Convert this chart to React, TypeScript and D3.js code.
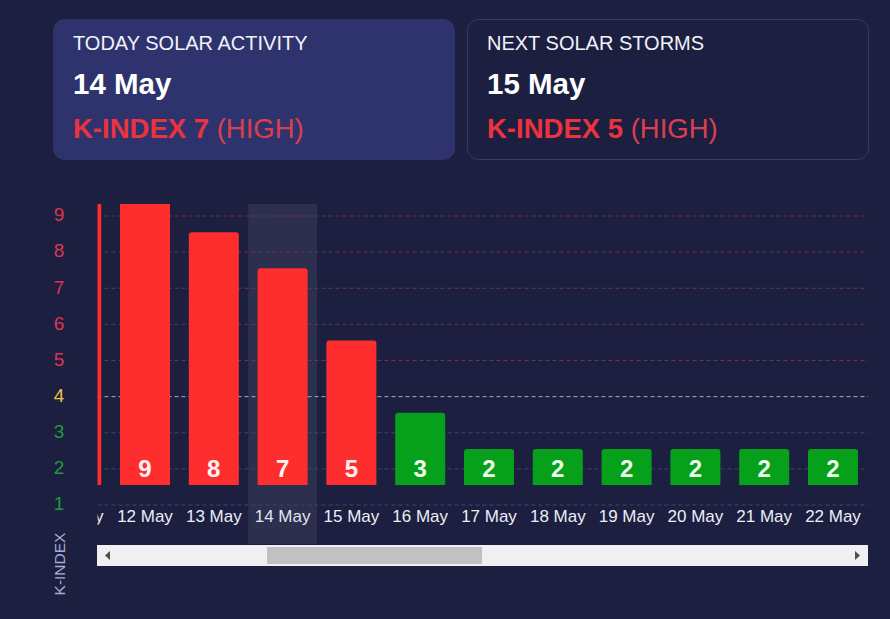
import React from "react";
import * as d3 from "d3";

const dates = ["11 May", "12 May", "13 May", "14 May", "15 May", "16 May", "17 May", "18 May", "19 May", "20 May", "21 May", "22 May"];
const kValues = [9, 9, 8, 7, 5, 3, 2, 2, 2, 2, 2, 2];
const yTicks = [1, 2, 3, 4, 5, 6, 7, 8, 9];
const todayDate = "14 May";
const todayK = 7;
const nextDate = "15 May";
const nextK = 5;
const levelLabel = "(HIGH)";

const W = 890;
const H = 619;
const BG = "#1c1f40";
const RED = "#ff2e2e";
const GREEN = "#06a01b";
const FONT = "'Liberation Sans', Arial, Helvetica, sans-serif";

const tickColor = (v: number) => (v >= 5 ? "#dc3550" : v === 4 ? "#f0c24a" : "#1f9a3c");
const gridColor = (v: number) => (v >= 5 ? "#6b3459" : v === 4 ? "#a9abc0" : "#3f4468");
const barColor = (v: number) => (v >= 4 ? RED : GREEN);

function topRoundedRect(x: number, y: number, w: number, h: number, r: number) {
  const p = d3.path();
  p.moveTo(x, y + h);
  p.lineTo(x, y + r);
  p.quadraticCurveTo(x, y, x + r, y);
  p.lineTo(x + w - r, y);
  p.quadraticCurveTo(x + w, y, x + w, y + r);
  p.lineTo(x + w, y + h);
  p.closePath();
  return p.toString();
}

function Card({ x, fill, stroke, title, date, k }: { x: number; fill: string; stroke: string; title: string; date: string; k: number }) {
  return (
    <g>
      <rect x={x} y={19.5} width={401} height={140} rx={11} fill={fill} stroke={stroke} strokeWidth={1} />
      <text x={x + 19.5} y={50} fontSize={20} fill="#f2f2fa" fontFamily={FONT}>{title}</text>
      <text x={x + 19.5} y={94} fontSize={29.5} fontWeight="bold" fill="#ffffff" fontFamily={FONT}>{date}</text>
      <text x={x + 19.5} y={138} fontSize={27.5} fontFamily={FONT}>
        <tspan fontWeight="bold" fill="#ea333e">K-INDEX {k}</tspan>
        <tspan fill="#d9404f"> {levelLabel}</tspan>
      </text>
    </g>
  );
}

export default function App() {
  const x = d3.scaleBand<string>().domain(dates).range([41.8, 867.4]).paddingInner(0.273).paddingOuter(0.1365);
  const step = x.step();
  const yAxis = d3.scaleLinear().domain([1, 9]).range([505, 216]);
  const yBar = d3.scaleLinear().domain([1, 9]).range([485, 196]);
  const clipL = 97.5;
  const clipR = 868;
  const plotTop = 204;
  const barBase = yBar(1);
  const todayIdx = dates.indexOf(todayDate);

  return (
    <div style={{ position: "absolute", left: 0, top: 0, width: W, height: H, background: BG }}>
      <svg width={W} height={H} style={{ display: "block" }}>
        <defs>
          <clipPath id="plotClip">
            <rect x={clipL} y={plotTop} width={clipR - clipL} height={340} />
          </clipPath>
        </defs>
        <rect x={0} y={0} width={W} height={H} fill={BG} />
        <Card x={53.5} fill="#2e336e" stroke="#2e336e" title="TODAY SOLAR ACTIVITY" date={todayDate} k={todayK} />
        <Card x={467.5} fill={BG} stroke="#353a6b" title="NEXT SOLAR STORMS" date={nextDate} k={nextK} />

        {/* Y tick labels */}
        {yTicks.map((v) => (
          <text key={v} x={59} y={yAxis(v) - 1.5} dy="0.36em" textAnchor="middle" fontSize={19} fill={tickColor(v)} fontFamily={FONT}>
            {v}
          </text>
        ))}
        <text
          transform={`translate(65,564) rotate(-90)`}
          textAnchor="middle"
          fontSize={15.5}
          fill="#a9acd6"
          fontFamily={FONT}
        >
          K-INDEX
        </text>

        <g clipPath="url(#plotClip)">
          {/* highlight band */}
          <rect x={(x(todayDate) as number) - (step - x.bandwidth()) / 2} y={plotTop} width={step} height={545 - plotTop} fill="#ffffff" fillOpacity={0.075} />
          {/* gridlines */}
          {yTicks.map((v) => (
            <line key={v} x1={clipL} x2={clipR} y1={yAxis(v)} y2={yAxis(v)} stroke={gridColor(v)} strokeWidth={1} strokeDasharray="4,3" />
          ))}
          {/* bars */}
          {dates.map((d, i) => (
            <path
              key={d}
              d={topRoundedRect(x(d) as number, yBar(kValues[i]), x.bandwidth(), barBase - yBar(kValues[i]), 3)}
              fill={barColor(kValues[i])}
            />
          ))}
          {/* value labels */}
          {dates.map((d, i) => (
            <text
              key={d}
              x={(x(d) as number) + x.bandwidth() / 2}
              y={477}
              textAnchor="middle"
              fontSize={24}
              fontWeight="bold"
              fill={kValues[i] >= 4 ? "#fff4f4" : "#f0fff0"}
              fontFamily={FONT}
            >
              {kValues[i]}
            </text>
          ))}
          {/* x labels */}
          {dates.map((d, i) => (
            <text
              key={d}
              x={(x(d) as number) + x.bandwidth() / 2}
              y={521.5}
              textAnchor="middle"
              fontSize={17}
              fill={i === todayIdx ? "#e2e4ee" : "#eceef6"}
              fontFamily={FONT}
            >
              {d}
            </text>
          ))}
        </g>

        {/* scrollbar */}
        <rect x={97} y={545} width={771} height={21} fill="#f0f0f2" />
        <rect x={267} y={547} width={215} height={17} fill="#c1c1c1" />
        <path d="M105,555.5 L110,551 L110,560 Z" fill="#505050" />
        <path d="M860,555.5 L855,551 L855,560 Z" fill="#505050" />
      </svg>
    </div>
  );
}
